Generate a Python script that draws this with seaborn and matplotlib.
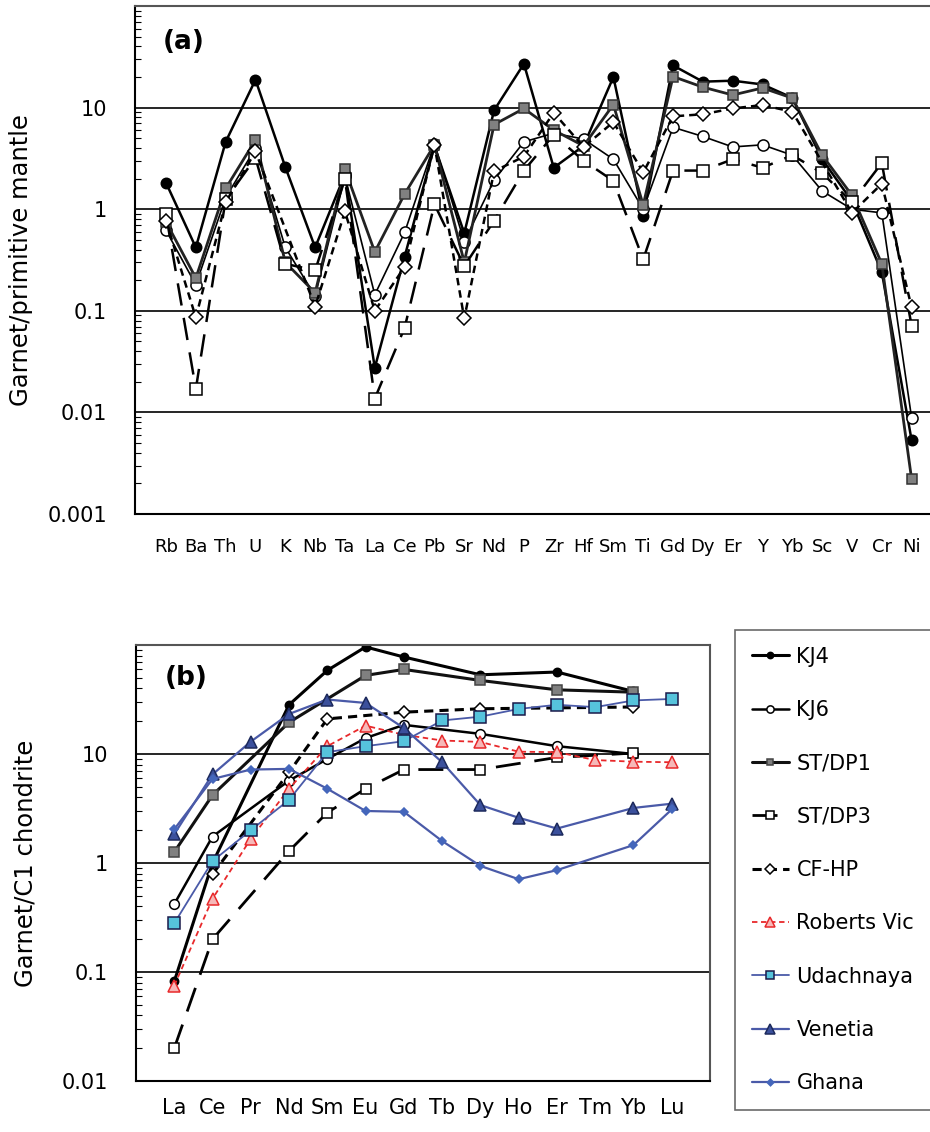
import numpy as np
import pandas as pd
import matplotlib
matplotlib.use('Agg')
import matplotlib.pyplot as plt
import matplotlib.ticker as mticker
import seaborn as sns

sns.set_style("white")
plt.rcParams['font.family'] = ['DejaVu Sans']
plt.rcParams['text.color'] = 'black'
plt.rcParams['axes.labelcolor'] = 'black'
plt.rcParams['xtick.color'] = 'black'
plt.rcParams['ytick.color'] = 'black'

nan = np.nan

# ==================== PANEL (a) DATA: garnet / primitive mantle ====================
elements_a = ['Rb', 'Ba', 'Th', 'U', 'K', 'Nb', 'Ta', 'La', 'Ce', 'Pb', 'Sr', 'Nd', 'P',
              'Zr', 'Hf', 'Sm', 'Ti', 'Gd', 'Dy', 'Er', 'Y', 'Yb', 'Sc', 'V', 'Cr', 'Ni']

kj4_a = [1.82, 0.42, 4.6, 18.8, 2.6, 0.42, 2.2, 0.0275, 0.34, 4.2, 0.58, 9.4, 27,
         2.56, 4.2, 20, 0.86, 26, 18, 18.4, 16.9, 12.5, 3.1, 1.2, 0.24, 0.0053]
kj6_a = [0.62, 0.18, 1.3, 4.0, 0.42, 0.14, 2.1, 0.144, 0.59, 4.4, 0.48, 1.93, 4.6,
         5.6, 4.9, 3.1, 1.0, 6.4, 5.2, 4.1, 4.3, 3.4, 1.51, 1.0, 0.92, 0.0088]
stdp1_a = [0.75, 0.21, 1.6, 4.8, 0.30, 0.15, 2.46, 0.38, 1.41, 4.3, 0.30, 6.8, 9.8,
           6.0, 4.2, 10.7, 1.1, 20.2, 15.9, 13.3, 15.6, 12.4, 3.4, 1.37, 0.29, 0.0022]
stdp3_a = [0.89, 0.017, 1.25, 3.2, 0.29, 0.25, 1.98, 0.0137, 0.068, 1.12, 0.275, 0.77, 2.4,
           5.4, 3.0, 1.9, 0.32, 2.4, 2.4, 3.1, 2.56, 3.4, 2.27, 1.17, 2.85, 0.071]
cfhp_a = [0.77, 0.086, 1.17, 3.7, nan, 0.11, 0.95, 0.10, 0.27, 4.3, 0.084, 2.36, 3.3,
          8.9, 4.1, 7.2, 2.3, 8.2, 8.6, 9.8, 10.6, 9.1, nan, 0.92, 1.78, 0.108]

# ==================== PANEL (b) DATA: garnet / C1 chondrite ====================
elements_b = ['La', 'Ce', 'Pr', 'Nd', 'Sm', 'Eu', 'Gd', 'Tb', 'Dy', 'Ho', 'Er', 'Tm', 'Yb', 'Lu']

kj4_b = [0.082, 1.0, nan, 28.3, 58.5, 96, 77.6, nan, 53.3, nan, 56.5, nan, 37.5, nan]
kj6_b = [0.42, 1.75, nan, 5.7, 9.0, 14, 18.5, nan, 15.3, nan, 11.8, nan, 10, nan]
stdp1_b = [1.26, 4.2, nan, 19.5, nan, 52.6, 59.7, nan, 47.3, nan, 38.8, nan, 36.9, nan]
stdp3_b = [0.02, 0.2, nan, 1.29, 2.9, 4.8, 7.2, nan, 7.2, nan, 9.3, nan, 10.2, nan]
cfhp_b = [nan, 0.79, nan, 6.8, 21, nan, 24.2, nan, 26, nan, nan, nan, 27, nan]
roberts_b = [0.075, 0.47, 1.67, 4.8, 11.8, 18.2, 15, 13.3, 12.9, 10.5, 10.4, 8.8, 8.5, 8.4]
udach_b = [0.28, 1.04, 2.0, 3.8, 10.4, 11.8, 13.1, 20.3, 22.0, 25.9, 28.3, 26.9, 31, 32]
venetia_b = [1.84, 6.5, 13, 23.3, 31.6, 29.4, 17.3, 8.4, 3.4, 2.6, 2.07, nan, 3.2, 3.5]
ghana_b = [2.04, 5.9, 7.2, 7.3, 4.8, 3.0, 2.95, 1.59, 0.94, 0.71, 0.86, nan, 1.46, 3.1]

# ==================== STYLES ====================
BLUE = '#4a5aa8'
styles_a = {
    'KJ4': dict(marker='o', color='black', markerfacecolor='black', markeredgecolor='black',
                markersize=7.5, linewidth=1.8, linestyle='-'),
    'KJ6': dict(marker='o', color='black', markerfacecolor='white', markeredgecolor='black',
                markersize=8, linewidth=1.2, linestyle='-'),
    'ST/DP1': dict(marker='s', color='#222222', markerfacecolor='#808080', markeredgecolor='#333333',
                   markersize=7.5, linewidth=2.0, linestyle='-'),
    'ST/DP3': dict(marker='s', color='black', markerfacecolor='white', markeredgecolor='black',
                   markersize=8, linewidth=1.8, linestyle=(0, (9, 5))),
    'CF-HP': dict(marker='D', color='black', markerfacecolor='white', markeredgecolor='black',
                  markersize=7, linewidth=1.8, linestyle=(0, (3, 2))),
}
styles_b = {
    'KJ4': dict(marker='o', color='black', markerfacecolor='black', markeredgecolor='black',
                markersize=6, linewidth=2.2, linestyle='-'),
    'KJ6': dict(marker='o', color='black', markerfacecolor='white', markeredgecolor='black',
                markersize=7, linewidth=1.8, linestyle='-'),
    'ST/DP1': dict(marker='s', color='#111111', markerfacecolor='#808080', markeredgecolor='#444444',
                   markersize=6.5, linewidth=2.2, linestyle='-'),
    'ST/DP3': dict(marker='s', color='black', markerfacecolor='white', markeredgecolor='black',
                   markersize=7, linewidth=2.0, linestyle=(0, (9, 5))),
    'CF-HP': dict(marker='D', color='black', markerfacecolor='white', markeredgecolor='black',
                  markersize=6.5, linewidth=2.2, linestyle=(0, (3, 2))),
    'Roberts Vic': dict(marker='^', color='#e8292b', markerfacecolor='#f6b8b8', markeredgecolor='#e8292b',
                        markersize=9, linewidth=1.3, linestyle=(0, (3, 2))),
    'Udachnaya': dict(marker='s', color=BLUE, markerfacecolor='#56c3dc', markeredgecolor='#1a1a4a',
                      markersize=8, linewidth=1.3, linestyle='-'),
    'Venetia': dict(marker='^', color=BLUE, markerfacecolor='#3b509c', markeredgecolor='#1d2a5c',
                    markersize=9, linewidth=1.6, linestyle='-'),
    'Ghana': dict(marker='D', color=BLUE, markerfacecolor='#4466bb', markeredgecolor='#4466bb',
                  markersize=4.5, linewidth=1.6, linestyle='-'),
}

series_a = {'KJ4': kj4_a, 'KJ6': kj6_a, 'ST/DP1': stdp1_a, 'ST/DP3': stdp3_a, 'CF-HP': cfhp_a}
series_b = {'KJ4': kj4_b, 'KJ6': kj6_b, 'ST/DP1': stdp1_b, 'ST/DP3': stdp3_b, 'CF-HP': cfhp_b,
            'Roberts Vic': roberts_b, 'Udachnaya': udach_b, 'Venetia': venetia_b, 'Ghana': ghana_b}

# ==================== FIGURE ====================
W, H = 930, 1132
fig = plt.figure(figsize=(W / 100, H / 100), dpi=100)


def px_axes(left, top, right, bottom):
    return fig.add_axes([left / W, 1 - bottom / H, (right - left) / W, (bottom - top) / H])


ax_a = px_axes(135, 6, 934, 514)
ax_b = px_axes(136, 645, 710, 1081)


def draw(ax, elements, series, styles, with_label):
    for name, vals in series.items():
        df = pd.DataFrame({'pos': np.arange(len(elements)), 'val': vals}).dropna()
        kw = dict(styles[name])
        if with_label:
            kw['label'] = name
        sns.lineplot(data=df, x='pos', y='val', ax=ax, estimator=None, sort=False,
                     markeredgewidth=1.1, **kw)


def style_axes(ax, elements, ymin, ymax, ylabels, xpad, xfont):
    ax.set_yscale('log')
    ax.set_ylim(ymin, ymax)
    ax.set_xlim(-1, len(elements))
    majors = [float(s) for s in ylabels]
    ax.yaxis.set_major_locator(mticker.FixedLocator(majors))
    ax.yaxis.set_major_formatter(mticker.FixedFormatter(ylabels))
    ax.yaxis.set_minor_locator(mticker.LogLocator(base=10, subs=np.arange(2, 10)))
    ax.yaxis.set_minor_formatter(mticker.NullFormatter())
    ax.yaxis.grid(True, which='major', color='black', linewidth=1.2)
    ax.set_axisbelow(True)
    ax.set_xticks(np.arange(len(elements)))
    ax.set_xticklabels(elements, fontsize=xfont)
    ax.tick_params(axis='x', direction='inout', length=10, width=1.2, pad=xpad, color='black')
    ax.tick_params(axis='y', which='major', direction='in', length=6, width=1, pad=20, labelsize=15)
    ax.tick_params(axis='y', which='minor', direction='in', length=4, width=0.8, left=True)
    ax.set_xlabel('')
    for side in ['left', 'bottom']:
        ax.spines[side].set_color('black')
        ax.spines[side].set_linewidth(1.5)
    for side in ['top', 'right']:
        ax.spines[side].set_color('#555555')
        ax.spines[side].set_linewidth(1.5)


draw(ax_a, elements_a, series_a, styles_a, False)
style_axes(ax_a, elements_a, 0.001, 100, ['0.001', '0.01', '0.1', '1', '10'], 12, 13)
ax_a.set_xlim(-1.04, 25.75)
ax_a.spines['right'].set_visible(False)
ax_a.set_ylabel('Garnet/primitive mantle', fontsize=17.5)
ax_a.text(0.035, 0.955, '(a)', transform=ax_a.transAxes, fontsize=19, fontweight='bold',
          va='top', ha='left')

draw(ax_b, elements_b, series_b, styles_b, True)
style_axes(ax_b, elements_b, 0.01, 100, ['0.01', '0.1', '1', '10'], 7, 15)
ax_b.set_ylabel('Garnet/C1 chondrite', fontsize=17.5)
ax_b.text(0.05, 0.955, '(b)', transform=ax_b.transAxes, fontsize=19, fontweight='bold',
          va='top', ha='left')

# legend in a box to the right of panel (b)
handles, labels = ax_b.get_legend_handles_labels()
leg = ax_b.legend(handles, labels, loc='upper left',
                  bbox_to_anchor=(735 / W, 1 - 630 / H), bbox_transform=fig.transFigure,
                  fontsize=15, frameon=True, fancybox=False, edgecolor='#444444',
                  handlelength=1.8, handletextpad=0.35, labelspacing=1.6,
                  borderpad=0.8, borderaxespad=0, markerscale=0.75)
leg.get_frame().set_linewidth(1.2)

# y labels at fixed horizontal position
ax_a.yaxis.set_label_coords((33 - 135) / 799, 0.5)
ax_b.yaxis.set_label_coords((37 - 136) / 574, 0.5)

fig.savefig('out.png', dpi=100)
